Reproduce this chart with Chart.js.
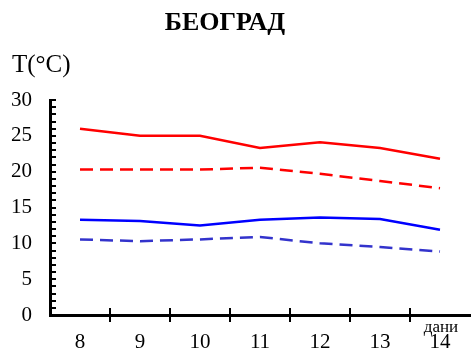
<!DOCTYPE html>
<html>
<head>
<meta charset="utf-8">
<script src="https://cdn.jsdelivr.net/npm/chart.js@4/dist/chart.umd.min.js"></script>
<style>
html,body{margin:0;padding:0;background:#fff;}
#wrap{width:471px;height:353px;}
</style>
</head>
<body>
<div id="wrap"><canvas id="c" width="471" height="353"></canvas></div>
<script>
const days = ['8', '9', '10', '11', '12', '13', '14'];
const maxSolid = [26, 25, 25, 23.3, 24.1, 23.3, 21.8];
const maxDashed = [20.3, 20.3, 20.3, 20.55, 19.7, 18.7, 17.7];
const minSolid = [13.3, 13.1, 12.5, 13.3, 13.6, 13.4, 11.9];
const minDashed = [10.55, 10.3, 10.55, 10.9, 10.0, 9.5, 8.85];
const yMin = 0, yMax = 30, yMajor = 5, yMinor = 1;

const FONT = '"Liberation Serif", "Times New Roman", serif';

const decor = {
  id: 'decor',
  afterDraw(chart) {
    const ctx = chart.ctx;
    const xs = chart.scales.x, ys = chart.scales.y;
    const area = chart.chartArea;
    ctx.save();
    ctx.strokeStyle = '#000';
    ctx.lineWidth = 2;
    for (let v = yMin; v <= yMax; v += yMinor) {
      const y = Math.round(ys.getPixelForValue(v));
      ctx.beginPath();
      ctx.moveTo(area.left, y);
      ctx.lineTo(area.left + 6, y);
      ctx.stroke();
    }
    for (let i = 0; i < days.length - 1; i++) {
      const x = Math.round((xs.getPixelForValue(i) + xs.getPixelForValue(i + 1)) / 2);
      ctx.beginPath();
      ctx.moveTo(x, area.bottom - 7);
      ctx.lineTo(x, area.bottom + 7);
      ctx.stroke();
    }
    ctx.fillStyle = '#000';
    ctx.textAlign = 'center';
    ctx.textBaseline = 'alphabetic';
    ctx.font = 'bold 26px ' + FONT;
    ctx.fillText('БЕОГРАД', 225, 30);
    ctx.textAlign = 'left';
    ctx.font = '25px ' + FONT;
    ctx.fillText('T(°C)', 12, 72);
    ctx.textAlign = 'center';
    ctx.font = '17px ' + FONT;
    ctx.fillText('дани', 441, 332);
    ctx.restore();
  }
};

new Chart(document.getElementById('c'), {
  type: 'line',
  data: {
    labels: days,
    datasets: [
      { data: maxSolid, borderColor: '#ff0000', borderWidth: 2.5, pointRadius: 0, tension: 0, fill: false },
      { data: maxDashed, borderColor: '#ff0000', borderWidth: 2.5, borderDash: [13, 7], pointRadius: 0, tension: 0, fill: false },
      { data: minSolid, borderColor: '#0000ff', borderWidth: 2.5, pointRadius: 0, tension: 0, fill: false },
      { data: minDashed, borderColor: '#3333cc', borderWidth: 2.5, borderDash: [13, 7], pointRadius: 0, tension: 0, fill: false }
    ]
  },
  options: {
    responsive: false,
    devicePixelRatio: 1,
    animation: false,
    layout: { padding: { top: 100, left: 0, right: 1, bottom: 0 } },
    plugins: { legend: { display: false }, tooltip: { enabled: false }, title: { display: false } },
    scales: {
      x: {
        type: 'category',
        offset: true,
        grid: { display: false, drawTicks: false },
        border: { display: true, color: '#000', width: 3 },
        ticks: { color: '#000', font: { family: FONT, size: 21 }, padding: 15, maxRotation: 0, autoSkip: false },
        afterFit(s) { s.height = 38; }
      },
      y: {
        min: yMin, max: yMax,
        grid: { display: false, drawTicks: false },
        border: { display: true, color: '#000', width: 3 },
        ticks: {
          stepSize: yMinor, autoSkip: false, color: '#000', padding: 18,
          font: { family: FONT, size: 21 },
          callback: v => (v % yMajor === 0 ? String(v) : '')
        },
        afterFit(s) { s.width = 50; }
      }
    }
  },
  plugins: [decor]
});
</script>
</body>
</html>
